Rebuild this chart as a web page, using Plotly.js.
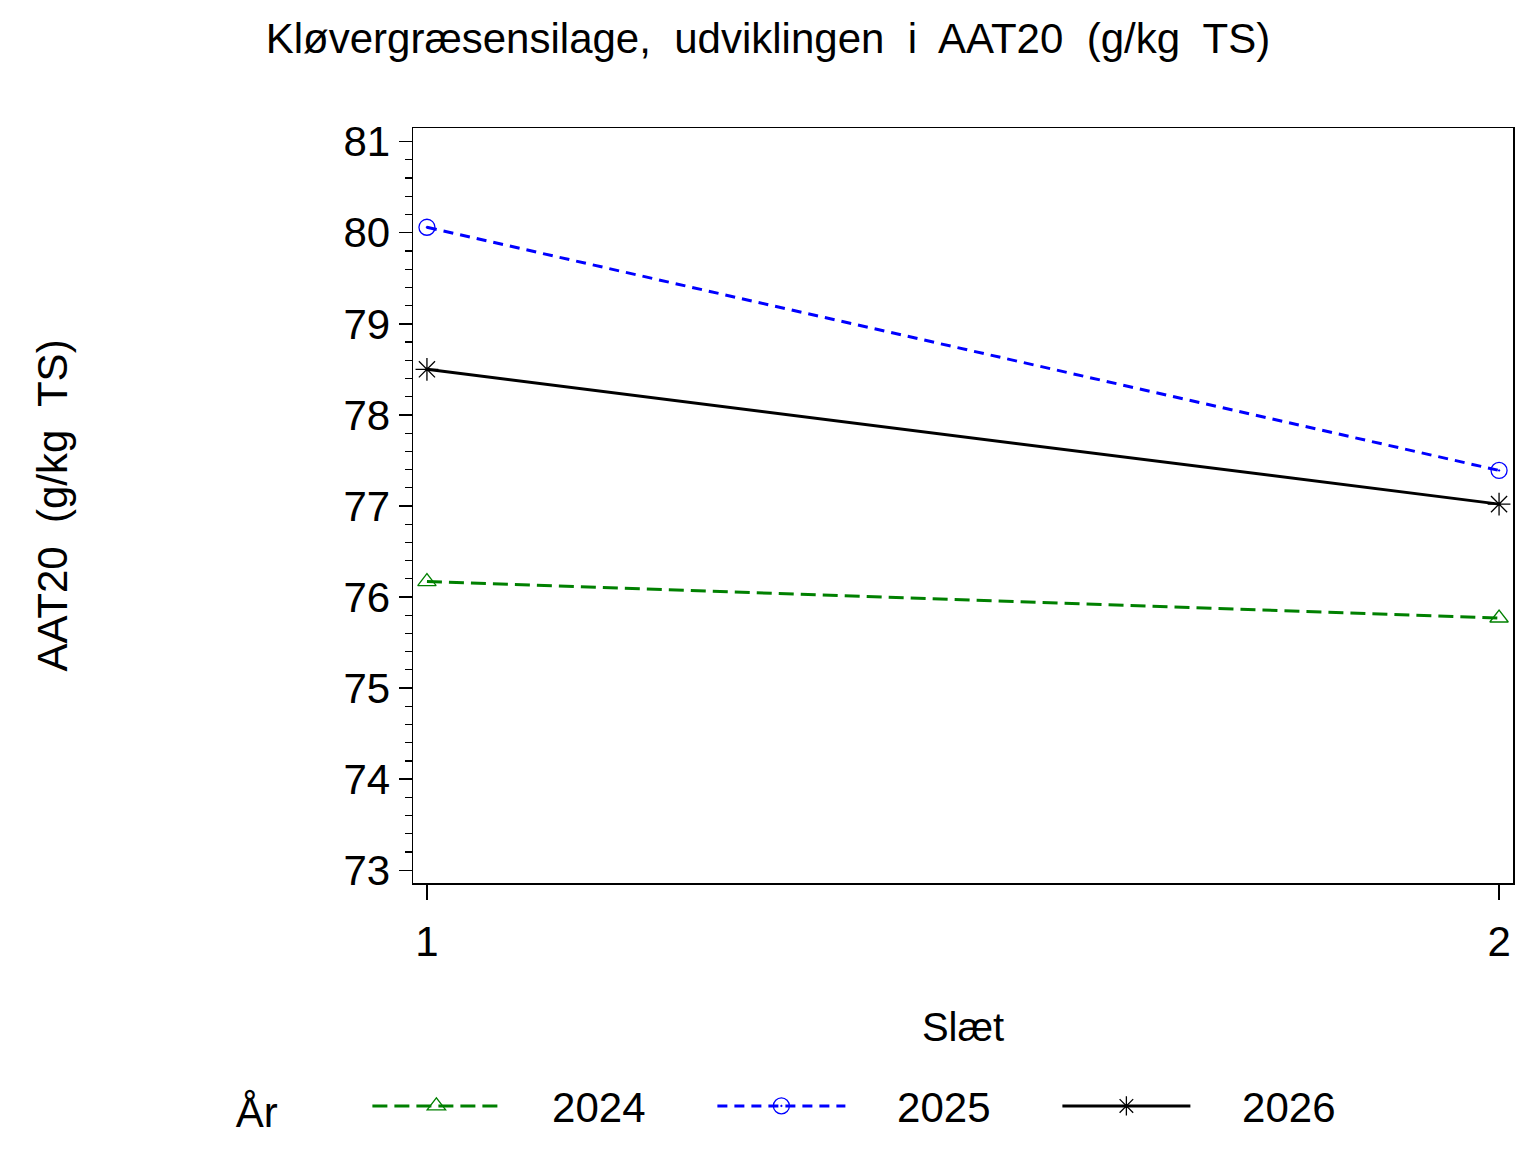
<!DOCTYPE html>
<html>
<head>
<meta charset="utf-8">
<script src="https://cdn.plot.ly/plotly-3.0.1.min.js"></script>
<style>
  html, body { margin: 0; padding: 0; background: #fff; }
  #graph { width: 1536px; height: 1152px; }
</style>
</head>
<body>
<div id="graph"></div>
<script>
// Slæt 1 og 2, AAT20 i g/kg TS
const slaet = [1, 2]
const aar = ["2024", "2025", "2026"]
const aat2024 = [76.17, 75.77]
const aat2025 = [80.06, 77.39]
const aat2026 = [78.50, 77.02]

const font = "Liberation Sans, Arial, sans-serif"
const nb = "\u00a0"
const pad = nb.repeat(4)  // luft mellem symbol og tekst i legenden

const traces = [
    {
        x: slaet, y: aat2024, name: pad + aar[0],
        mode: "lines+markers", type: "scatter",
        line: { color: "#008000", width: 3, dash: "15px,7px" },
        marker: { symbol: "triangle-up-open", size: 16, color: "#008000", line: { width: 1.3 } }
    },
    {
        x: slaet, y: aat2025, name: pad + aar[1],
        mode: "lines+markers", type: "scatter",
        line: { color: "#0000ff", width: 3, dash: "10px,7px" },
        marker: { symbol: "circle-open-dot", size: 16, color: "#0000ff", line: { width: 1.3 } }
    },
    {
        x: slaet, y: aat2026, name: pad + aar[2],
        mode: "lines+markers", type: "scatter",
        line: { color: "#000000", width: 3 },
        marker: { symbol: "asterisk-open", size: 19, color: "#000000", line: { width: 1.3 } }
    }
]

const layout = {
    width: 1536,
    height: 1152,
    paper_bgcolor: "#fff",
    plot_bgcolor: "#fff",
    font: { family: font, color: "#000" },
    margin: { l: 413, r: 23, t: 128, b: 266 },
    title: {
        text: "Kløvergræsensilage,  udviklingen  i  AAT20  (g/kg  TS)",
        font: { size: 42, family: font },
        x: 0.5, xanchor: "center",
        y: 0.967, yanchor: "middle"
    },
    xaxis: {
        range: [0.987, 2.013],
        tickvals: slaet,
        ticktext: ["1", "2"],
        ticks: "outside", ticklen: 15, tickwidth: 1.5, tickcolor: "#000",
        ticklabelstandoff: 6,
        showline: true, linecolor: "#000", linewidth: 1.5, mirror: true,
        showgrid: false, zeroline: false,
        tickfont: { size: 42 },
        title: { text: "Slæt", font: { size: 40 }, standoff: 49 }
    },
    yaxis: {
        range: [72.86, 81.15],
        dtick: 1,
        ticks: "outside", ticklen: 13, tickwidth: 1.5, tickcolor: "#000",
        ticklabelstandoff: 0,
        minor: { dtick: 0.2, ticks: "outside", ticklen: 7, tickwidth: 1.2, tickcolor: "#000", showgrid: false },
        showline: true, linecolor: "#000", linewidth: 1.5, mirror: true,
        showgrid: false, zeroline: false,
        tickfont: { size: 42 },
        title: { text: "AAT20  (g/kg  TS)", font: { size: 42 }, standoff: 262 }
    },
    showlegend: true,
    legend: {
        orientation: "h",
        x: -0.163, xanchor: "left",
        y: -0.2955, yanchor: "middle",
        title: { text: "År" + nb.repeat(7), font: { size: 42 }, side: "left" },
        font: { size: 42 },
        itemwidth: 128,
        entrywidth: 202,
        itemclick: false,
        bgcolor: "rgba(0,0,0,0)"
    }
}

Plotly.newPlot("graph", traces, layout, { staticPlot: true })
</script>
</body>
</html>
